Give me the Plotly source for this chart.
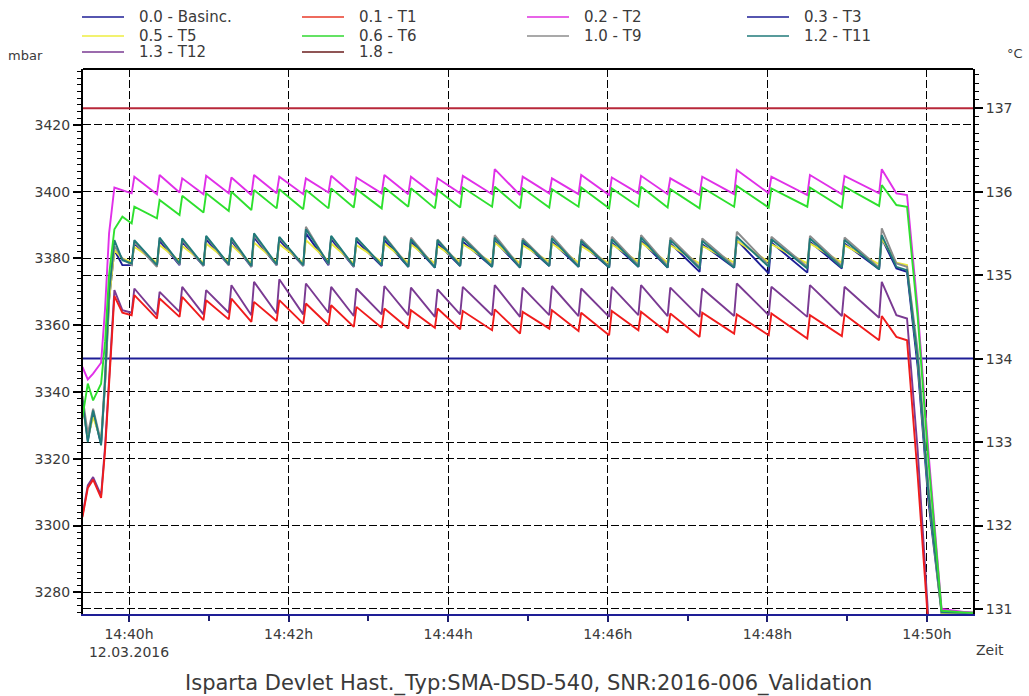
import pandas as pd
import plotly.graph_objects as go

BASE = pd.Timestamp("2016-03-12 14:39:25")

# ---- time structure (seconds after 14:39:25) ----
start_t = [0, 4, 8, 14, 17, 20, 24, 30]
trough_t = [37, 56, 73, 91, 110, 127, 146, 166, 185, 204, 225, 245, 265, 284,
            308, 329, 351, 373, 396, 418, 440, 464, 490, 516, 545, 571, 599]
peak_t = [39, 58, 75, 93, 112, 129, 148, 168, 187, 206, 227, 247, 267, 286,
          310, 331, 353, 375, 398, 420, 442, 466, 492, 518, 547, 573, 601]
end_t = [612, 620, 628, 636, 646, 670]

# ---- 0.2 - T2 (magenta) ----
T2_start = [133.90, 133.75, 133.82, 133.95, 134.60, 135.50, 136.05, 136.02]
T2_trough = [135.98, 135.97, 135.99, 135.97, 135.98, 135.96, 135.98, 135.97, 135.99, 135.96, 135.98, 135.97, 135.96, 135.98,
             135.97, 135.96, 135.98, 135.97, 135.96, 135.98, 135.97, 135.96, 135.97, 135.98, 135.96, 135.97, 135.98]
T2_peak = [136.18, 136.20, 136.16, 136.19, 136.17, 136.20, 136.18, 136.16, 136.19, 136.17, 136.20, 136.18, 136.16, 136.19,
           136.27, 136.18, 136.16, 136.20, 136.17, 136.19, 136.16, 136.18, 136.26, 136.18, 136.20, 136.19, 136.27]
T2_end = [135.98, 135.96, 134.60, 132.90, 131.00, 130.95]

# ---- 0.6 - T6 (green) ----
T6_start = [133.30, 133.70, 133.50, 133.70, 134.20, 135.00, 135.55, 135.70]
T6_trough = [135.62, 135.68, 135.72, 135.75, 135.77, 135.78, 135.80, 135.79, 135.80, 135.81, 135.80, 135.82, 135.80, 135.81,
             135.82, 135.80, 135.81, 135.82, 135.80, 135.82, 135.81, 135.80, 135.82, 135.81, 135.82, 135.81, 135.83]
T6_peak = [135.82, 135.90, 135.95, 135.98, 136.00, 136.02, 136.03, 136.02, 136.04, 136.03, 136.05, 136.04, 136.02, 136.05,
           136.06, 136.04, 136.03, 136.05, 136.04, 136.06, 136.03, 136.05, 136.07, 136.04, 136.05, 136.06, 136.08]
T6_end = [135.84, 135.82, 134.50, 132.80, 130.98, 130.95]

# ---- 1.0 - T9 (gray) ----
T9_start = [133.55, 133.10, 133.40, 133.00, 133.80, 134.80, 135.35, 135.20]
T9_trough = [135.12, 135.10, 135.13, 135.11, 135.12, 135.10, 135.12, 135.11, 135.13, 135.10, 135.12, 135.11, 135.10, 135.12,
             135.11, 135.10, 135.12, 135.11, 135.10, 135.12, 135.11, 135.10, 135.11, 135.12, 135.10, 135.11, 135.09]
T9_peak = [135.40, 135.44, 135.42, 135.46, 135.43, 135.48, 135.45, 135.58, 135.46, 135.44, 135.47, 135.45, 135.43, 135.46,
           135.48, 135.44, 135.47, 135.43, 135.46, 135.48, 135.45, 135.44, 135.52, 135.46, 135.47, 135.45, 135.56]
T9_end = [135.14, 135.10, 134.10, 132.50, 130.97, 130.96]

# ---- 1.2 - T11 (teal) ----
T11_start = [133.50, 133.00, 133.38, 132.96, 133.74, 134.80, 135.42, 135.18]
T11_trough = [135.14, 135.12, 135.14, 135.12, 135.13, 135.11, 135.13, 135.12, 135.14, 135.11, 135.12, 135.10, 135.09, 135.11,
              135.10, 135.09, 135.11, 135.10, 135.09, 135.10, 135.09, 135.08, 135.09, 135.10, 135.08, 135.09, 135.07]
T11_peak = [135.42, 135.45, 135.44, 135.47, 135.45, 135.50, 135.46, 135.55, 135.47, 135.45, 135.46, 135.43, 135.42, 135.44,
            135.45, 135.42, 135.44, 135.41, 135.43, 135.45, 135.42, 135.41, 135.46, 135.43, 135.44, 135.42, 135.48]
T11_end = [135.10, 135.06, 134.00, 132.40, 130.96, 130.95]

# ---- 0.5 - T5 (yellow) ----
T5_start = [133.45, 133.05, 133.30, 133.02, 133.70, 134.70, 135.30, 135.20]
T5_trough = [135.16, 135.15, 135.17, 135.15, 135.16, 135.14, 135.16, 135.15, 135.17, 135.14, 135.16, 135.15, 135.14, 135.16,
             135.15, 135.14, 135.16, 135.15, 135.14, 135.16, 135.15, 135.14, 135.15, 135.16, 135.14, 135.15, 135.13]
T5_peak = [135.34, 135.36, 135.35, 135.38, 135.36, 135.39, 135.37, 135.42, 135.38, 135.36, 135.38, 135.37, 135.35, 135.37,
           135.39, 135.36, 135.38, 135.35, 135.37, 135.39, 135.36, 135.35, 135.41, 135.37, 135.38, 135.36, 135.44]
T5_end = [135.15, 135.12, 134.00, 132.40, 130.95, 130.95]

# ---- 0.3 - T3 (navy, mostly hidden under T9/T11) ----
T3_start = [133.48, 133.02, 133.35, 132.98, 133.70, 134.70, 135.30, 135.12]
T3_trough = [135.12, 135.11, 135.12, 135.11, 135.12, 135.10, 135.12, 135.11, 135.12, 135.10, 135.11, 135.10, 135.09, 135.11,
             135.10, 135.09, 135.11, 135.10, 135.09, 135.10, 135.09, 135.04, 135.09, 135.02, 135.03, 135.08, 135.07]
T3_peak = [135.38, 135.41, 135.40, 135.43, 135.41, 135.45, 135.42, 135.50, 135.43, 135.41, 135.42, 135.40, 135.38, 135.40,
           135.41, 135.39, 135.40, 135.38, 135.39, 135.41, 135.38, 135.37, 135.42, 135.39, 135.40, 135.38, 135.44]
T3_end = [135.08, 135.04, 133.90, 132.30, 130.95, 130.95]

# ---- 1.3 - T12 (purple) ----
T12_start = [132.12, 132.48, 132.58, 132.36, 132.95, 133.80, 134.82, 134.58]
T12_trough = [134.55, 134.52, 134.56, 134.53, 134.55, 134.52, 134.54, 134.53, 134.55, 134.51, 134.53, 134.52, 134.50, 134.53,
              134.52, 134.50, 134.52, 134.51, 134.50, 134.52, 134.51, 134.50, 134.51, 134.52, 134.50, 134.51, 134.49]
T12_peak = [134.84, 134.80, 134.86, 134.82, 134.88, 134.92, 134.95, 134.90, 134.86, 134.84, 134.87, 134.85, 134.83, 134.86,
            134.88, 134.85, 134.87, 134.84, 134.86, 134.88, 134.85, 134.84, 134.90, 134.86, 134.88, 134.86, 134.92]
T12_end = [134.52, 134.48, 132.90, 130.90, 130.80, 130.80]

# ---- 0.1 - T1 (red) ----
T1_start = [132.10, 132.45, 132.55, 132.33, 132.90, 133.70, 134.75, 134.55]
T1_trough = [134.52, 134.48, 134.50, 134.46, 134.47, 134.44, 134.45, 134.42, 134.40, 134.38, 134.37, 134.36, 134.37, 134.35,
             134.34, 134.30, 134.36, 134.33, 134.28, 134.34, 134.31, 134.26, 134.30, 134.28, 134.24, 134.27, 134.22]
T1_peak = [134.76, 134.72, 134.74, 134.70, 134.72, 134.68, 134.70, 134.66, 134.64, 134.62, 134.60, 134.58, 134.60, 134.57,
           134.59, 134.56, 134.58, 134.55, 134.57, 134.56, 134.54, 134.55, 134.53, 134.54, 134.52, 134.53, 134.51]
T1_end = [134.26, 134.22, 132.60, 130.80, 130.80, 130.80]

# ---- constant channels ----
basinc_t = [0, 670]
basinc_mbar = [3350, 3350]
ch18_t = [0, 670]
ch18_degC = [137.0, 137.0]

# ---- legend / labels ----
legend_names = ["0.0 - Basinc.", "0.1 - T1", "0.2 - T2", "0.3 - T3",
                "0.5 - T5", "0.6 - T6", "1.0 - T9", "1.2 - T11",
                "1.3 - T12", "1.8 -"]
legend_colors = ["#1e1e96", "#e83a28", "#e030e0", "#1e1e96",
                 "#eeee40", "#30d830", "#8c8c8c", "#207a7a",
                 "#7a3a92", "#6a1c1c"]
x_tick_minutes = ["14:40", "14:42", "14:44", "14:46", "14:48", "14:50"]
x_tick_text = ["14:40h<br>12.03.2016", "14:42h", "14:44h", "14:46h", "14:48h", "14:50h"]
x_minor_minutes = ["14:41", "14:43", "14:45", "14:47", "14:49"]
title_text = "Isparta Devlet Hast._Typ:SMA-DSD-540, SNR:2016-006_Validation"

FONT = "DejaVu Sans"
TXT = "#3a3a3a"


def interleave(a, b):
    out = []
    for u, v in zip(a, b):
        out += [u, v]
    return out


def to_x(seconds):
    return [BASE + pd.Timedelta(seconds=s) for s in seconds]


t_all = start_t + interleave(trough_t, peak_t) + end_t
x_all = to_x(t_all)


def full(s, tr, pk, e):
    return s + interleave(tr, pk) + e


fig = go.Figure()

# constant channels
fig.add_trace(go.Scatter(x=to_x(basinc_t), y=basinc_mbar, mode="lines", yaxis="y",
                         line=dict(color=legend_colors[0], width=2), name=legend_names[0]))
fig.add_trace(go.Scatter(x=to_x(ch18_t), y=ch18_degC, mode="lines", yaxis="y2",
                         line=dict(color="#b8283a", width=2), name=legend_names[9]))

series = [
    (3, T3_start, T3_trough, T3_peak, T3_end),
    (4, T5_start, T5_trough, T5_peak, T5_end),
    (6, T9_start, T9_trough, T9_peak, T9_end),
    (7, T11_start, T11_trough, T11_peak, T11_end),
    (2, T2_start, T2_trough, T2_peak, T2_end),
    (5, T6_start, T6_trough, T6_peak, T6_end),
    (8, T12_start, T12_trough, T12_peak, T12_end),
    (1, T1_start, T1_trough, T1_peak, T1_end),
]
plot_colors = {1: "#f01c1c", 2: "#e030e8", 3: "#1e1e96", 4: "#e8e83a",
               5: "#2ee02e", 6: "#8c8c8c", 7: "#207a7a", 8: "#7a3a92"}
for idx, s, tr, pk, e in series:
    fig.add_trace(go.Scatter(x=x_all, y=full(s, tr, pk, e), mode="lines", yaxis="y2",
                             line=dict(color=plot_colors[idx], width=1.9),
                             name=legend_names[idx]))

# geometry of the plot area in pixels
L, R, T, B = 83, 973, 69, 614
W, H = 1029, 696


def px(xp):
    return (xp - L) / (R - L)


def py(yp):
    return (B - yp) / (B - T)


shapes = [dict(type="line", xref="paper", yref="paper", x0=0, x1=1, y0=1, y1=1,
               line=dict(color="black", width=2))]
annotations = []

col_line_x = [82, 302, 527, 747]
row_y = [17, 36, 52]
for i, (nm, col) in enumerate(zip(legend_names, legend_colors)):
    c, r = i % 4, i // 4
    x0 = col_line_x[c]
    y0 = row_y[r]
    shapes.append(dict(type="line", xref="paper", yref="paper",
                       x0=px(x0), x1=px(x0 + 42), y0=py(y0), y1=py(y0),
                       line=dict(color=col, width=1.6)))
    annotations.append(dict(xref="paper", yref="paper", x=px(x0 + 55), y=py(y0),
                            text=nm, showarrow=False, xanchor="left", yanchor="middle",
                            font=dict(family=FONT, size=15, color=TXT)))

annotations += [
    dict(xref="paper", yref="paper", x=px(25), y=py(55), text="mbar", showarrow=False,
         xanchor="center", yanchor="middle", font=dict(family=FONT, size=13, color=TXT)),
    dict(xref="paper", yref="paper", x=px(1015), y=py(53), text="°C", showarrow=False,
         xanchor="center", yanchor="middle", font=dict(family=FONT, size=13, color=TXT)),
    dict(xref="paper", yref="paper", x=px(990), y=py(650), text="Zeit", showarrow=False,
         xanchor="center", yanchor="middle", font=dict(family=FONT, size=14, color=TXT)),
    dict(xref="paper", yref="paper", x=px(528), y=py(683), text=title_text, showarrow=False,
         xanchor="center", yanchor="middle", font=dict(family=FONT, size=21, color=TXT)),
]

GRID_DASH = "8px,3px"
date0 = "2016-03-12 "

fig.update_layout(
    width=W, height=H,
    margin=dict(l=L, r=W - R, t=T, b=H - B),
    paper_bgcolor="white", plot_bgcolor="white",
    showlegend=False,
    shapes=shapes, annotations=annotations,
    xaxis=dict(
        type="date",
        range=[date0 + "14:39:25.4", date0 + "14:50:34.6"],
        tickmode="array",
        tickvals=[date0 + m for m in x_tick_minutes],
        ticktext=x_tick_text,
        ticks="outside", ticklen=6, tickwidth=1.5, tickcolor="#1e1e70",
        showgrid=True, gridcolor="black", gridwidth=1.3, griddash=GRID_DASH,
        showline=True, linecolor="#1e1e96", linewidth=2,
        zeroline=False,
        tickfont=dict(family=FONT, size=14, color=TXT),
        minor=dict(tickmode="array", tickvals=[date0 + m for m in x_minor_minutes],
                   ticks="outside", ticklen=5, tickwidth=1.5, tickcolor="#1e1e70", showgrid=False),
    ),
    yaxis=dict(
        range=[3273.5, 3436.75],
        tickmode="linear", tick0=3280, dtick=20,
        ticks="outside", ticklen=8, tickwidth=1.5, tickcolor="black",
        showgrid=True, gridcolor="black", gridwidth=1.3, griddash=GRID_DASH,
        showline=True, linecolor="black", linewidth=2,
        zeroline=False,
        tickfont=dict(family=FONT, size=14, color=TXT),
        minor=dict(dtick=2, ticks="outside", ticklen=4, tickwidth=1.2, tickcolor="black", showgrid=False),
    ),
    yaxis2=dict(
        overlaying="y", side="right",
        range=[130.94, 137.47],
        tickmode="linear", tick0=131, dtick=1,
        ticks="outside", ticklen=8, tickwidth=1.5, tickcolor="black",
        showgrid=True, gridcolor="black", gridwidth=1.3, griddash=GRID_DASH,
        showline=True, linecolor="black", linewidth=2,
        zeroline=False,
        tickfont=dict(family=FONT, size=14, color=TXT),
        minor=dict(dtick=0.1, ticks="outside", ticklen=4, tickwidth=1.2, tickcolor="black", showgrid=False),
    ),
)

fig.write_html("out.html",
               config={"displayModeBar": False},
               post_script="document.body.style.margin='0';document.body.style.overflow='hidden';")
